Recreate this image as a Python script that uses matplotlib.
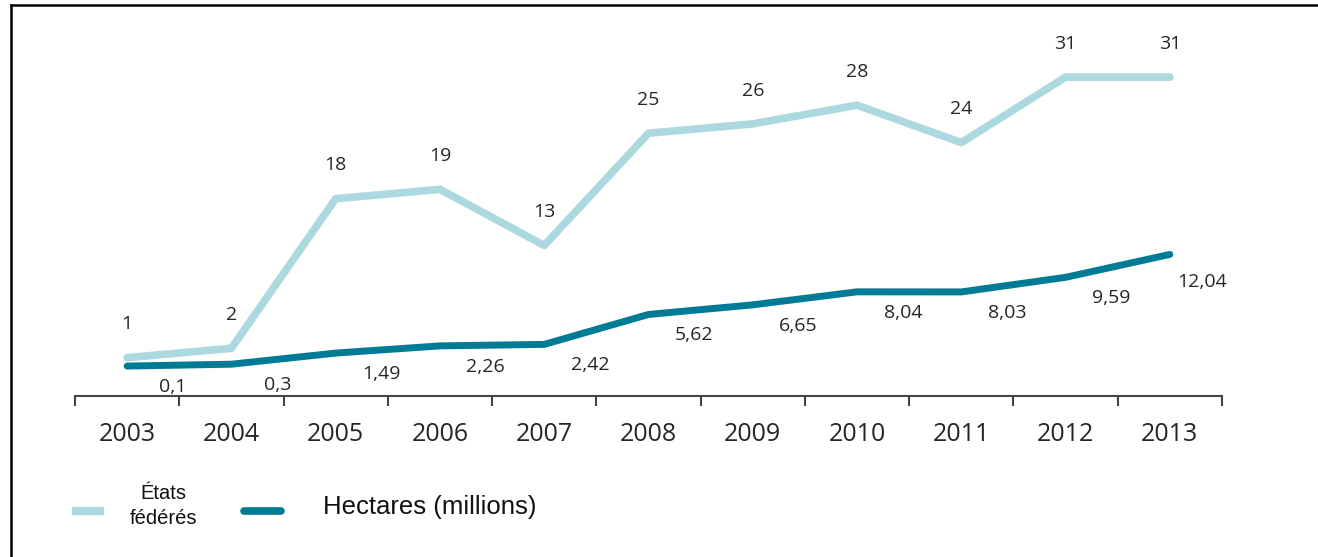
import matplotlib
matplotlib.use("Agg")
import matplotlib.pyplot as plt
from matplotlib.lines import Line2D

years = ["2003", "2004", "2005", "2006", "2007", "2008", "2009", "2010", "2011", "2012", "2013"]
etats = [1, 2, 18, 19, 13, 25, 26, 28, 24, 31, 31]
hectares = [0.1, 0.3, 1.49, 2.26, 2.42, 5.62, 6.65, 8.04, 8.03, 9.59, 12.04]
etats_labels = ["1", "2", "18", "19", "13", "25", "26", "28", "24", "31", "31"]
hectares_labels = ["0,1", "0,3", "1,49", "2,26", "2,42", "5,62", "6,65", "8,04", "8,03", "9,59", "12,04"]
legend_etats = "États\nfédérés"
legend_hectares = "Hectares (millions)"

LIGHT = "#abd9df"
DARK = "#007b95"
TXT = "#262626"
FONT = ["Open Sans", "DejaVu Sans"]

W, H = 1318, 557
fig = plt.figure(figsize=(W / 100, H / 100), dpi=100)
fig.patch.set_facecolor("white")

def fx(px):
    return px / W

def fy(py):
    return 1 - py / H

ax_left, ax_right = 75, 1222
ax_top, ax_bot = 30, 396
ax = fig.add_axes([fx(ax_left), fy(ax_bot), (ax_right - ax_left) / W, (ax_bot - ax_top) / H])

x = list(range(len(years)))
ax.plot(x, etats, color=LIGHT, lw=5.5, solid_capstyle="round", solid_joinstyle="round", zorder=2)
ax.plot(x, hectares, color=DARK, lw=5.0, solid_capstyle="round", solid_joinstyle="round", zorder=3)

ax.set_xlim(-0.5, len(years) - 0.5)
ax.set_ylim(-3.1, 36.04)

for xi, v, lab in zip(x, etats, etats_labels):
    ax.annotate(lab, (xi, v), xytext=(0, 24), textcoords="offset points",
                ha="center", va="center", fontsize=14, color=TXT, family=FONT, fontweight=500)

for i, (xi, v, lab) in enumerate(zip(x, hectares, hectares_labels)):
    dx, dy = (33, -15) if i < len(x) - 1 else (23, -20)
    ax.annotate(lab, (xi, v), xytext=(dx, dy), textcoords="offset points",
                ha="center", va="center", fontsize=14, color=TXT, family=FONT, fontweight=500)

for s in ["top", "right", "left"]:
    ax.spines[s].set_visible(False)
ax.spines["bottom"].set_color("#444444")
ax.spines["bottom"].set_linewidth(1.5)
ax.set_yticks([])
ax.set_xticks(x)
ax.set_xticklabels(years, fontsize=18, color=TXT, family=FONT, fontweight=500)
ax.set_xticks([i - 0.5 for i in range(len(years) + 1)], minor=True)
ax.tick_params(axis="x", which="major", length=0, pad=19)
ax.tick_params(axis="x", which="minor", length=7.5, width=1.5, color="#444444", direction="out")
ax.set_facecolor("none")

# Legend
fig.add_artist(Line2D([fx(72), fx(104)], [fy(510.5), fy(510.5)], color=LIGHT, lw=6,
                      solid_capstyle="butt", transform=fig.transFigure))
fig.add_artist(Line2D([fx(244), fx(281)], [fy(511), fy(511)], color=DARK, lw=5.5,
                      solid_capstyle="round", transform=fig.transFigure))
fig.text(fx(163), fy(506), legend_etats, ha="center", va="center", fontsize=14.5,
         linespacing=1.35, color="#111111", family=["Liberation Sans", "DejaVu Sans"])
fig.text(fx(323), fy(507), legend_hectares, ha="left", va="center", fontsize=18.5,
         color="#111111", family=["Liberation Sans", "DejaVu Sans"])

# Border (top and left)
fig.add_artist(Line2D([fx(11), 1.0], [fy(5), fy(5)], color="black", lw=1.8, transform=fig.transFigure))
fig.add_artist(Line2D([fx(11), fx(11)], [fy(5), 0.0], color="black", lw=1.8, transform=fig.transFigure))

fig.savefig("out.png", dpi=100, facecolor="white")
